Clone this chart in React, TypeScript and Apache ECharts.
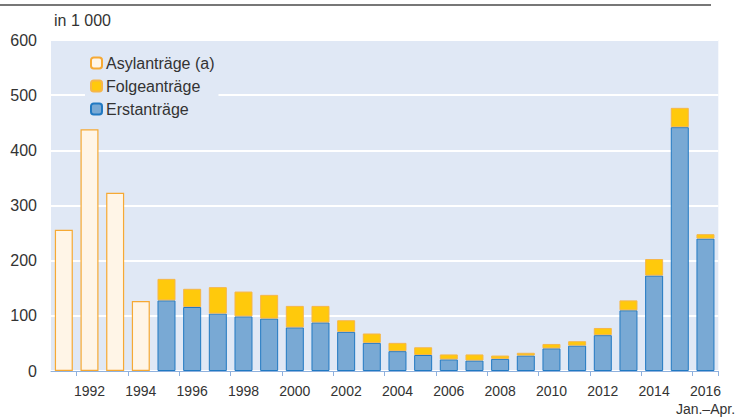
import React, { useEffect, useRef } from "react";
import * as echarts from "echarts";

const years = [
  "1991", "1992", "1993", "1994", "1995", "1996", "1997", "1998", "1999", "2000",
  "2001", "2002", "2003", "2004", "2005", "2006", "2007", "2008", "2009", "2010",
  "2011", "2012", "2013", "2014", "2015", "2016",
];

// Asylanträge (a) – total, only 1991–1994 (in 1 000)
const asylTotal = [256, 438, 323, 127];
// Erstanträge (in 1 000), 1995–2016
const erstantraege = [
  128, 116, 104, 99, 95, 79, 88, 71, 51, 36, 29, 21, 19, 22, 28, 41, 46, 65, 110, 173, 442, 240,
];
// Folgeanträge (in 1 000), 1995–2016
const folgeantraege = [
  39, 33, 48, 45, 43, 39, 30, 21, 17, 15, 14, 9, 11, 6, 5, 8, 8, 13, 18, 30, 35, 8,
];

const yTicks = [0, 100, 200, 300, 400, 500, 600];

const FONT = "'Liberation Sans', Arial, Helvetica, sans-serif";

export default function App() {
  const ref = useRef<HTMLDivElement>(null);

  useEffect(() => {
    document.body.style.margin = "0";
    if (!ref.current) return;
    const chart = echarts.init(ref.current, undefined, { renderer: "svg" });

    const pre = years.length - erstantraege.length;
    const asylData = years.map((_, i) => (i < asylTotal.length ? asylTotal[i] : "-"));
    const erstData = years.map((_, i) => (i >= pre ? erstantraege[i - pre] : "-"));
    const folgeData = years.map((_, i) => (i >= pre ? folgeantraege[i - pre] : "-"));

    chart.setOption({
      animation: false,
      textStyle: { fontFamily: FONT },
      grid: {
        left: 51,
        right: 18,
        top: 40,
        bottom: 43.5,
        show: true,
        backgroundColor: "#e0e8f5",
        borderWidth: 0,
      },
      legend: {
        orient: "vertical",
        left: 85,
        top: 50,
        padding: [5, 4, 5, 5],
        backgroundColor: "#e0e8f5",
        itemWidth: 11,
        itemHeight: 11,
        itemGap: 7,
        textStyle: { fontSize: 16, color: "#333", lineHeight: 16, fontFamily: FONT, padding: [0, 0, 0, -1] },
        data: ["Asylanträge (a)", "Folgeanträge", "Erstanträge"],
      },
      graphic: [
        {
          type: "line",
          shape: { x1: 0, y1: 5, x2: 711, y2: 5 },
          style: { stroke: "#777", lineWidth: 2 },
        },
        {
          type: "text",
          left: 54,
          top: 12,
          style: { text: "in 1 000", fontSize: 16, fill: "#333", fontFamily: FONT },
        },
      ],
      xAxis: {
        type: "category",
        data: years,
        boundaryGap: true,
        axisLine: { lineStyle: { color: "#8fb1de", width: 1 } },
        axisTick: { show: true, length: 5, lineStyle: { color: "#8fb1de" } },
        axisLabel: {
          interval: (index: number) => index % 2 === 1,
          color: "#333",
          fontSize: 14,
          margin: 12,
          lineHeight: 16,
          formatter: (v: string) => (v === "2016" ? "2016\n{s|Jan.–Apr.}" : v),
          rich: { s: { fontSize: 14, lineHeight: 19, color: "#333" } },
        },
      },
      yAxis: {
        type: "value",
        min: 0,
        max: 600,
        interval: 100,
        axisLine: { show: false },
        axisTick: { show: false },
        axisLabel: {
          color: "#333",
          fontSize: 16,
          margin: 14,
          formatter: (v: number) => (yTicks.includes(v) ? String(v) : ""),
        },
        splitLine: { show: true, lineStyle: { color: "#ffffff", width: 2 } },
      },
      series: [
        {
          name: "Erstanträge",
          type: "bar",
          stack: "a",
          data: erstData,
          barWidth: 18,
          itemStyle: { color: "#79a9d4", borderColor: "#2179c2", borderWidth: 1 },
        },
        {
          name: "Folgeanträge",
          type: "bar",
          stack: "a",
          data: folgeData,
          barWidth: 18,
          itemStyle: { color: "#ffc90c", borderColor: "#f6b64a", borderWidth: 1 },
        },
        {
          name: "Asylanträge (a)",
          type: "bar",
          stack: "a",
          data: asylData,
          barWidth: 18,
          itemStyle: { color: "#fff5e7", borderColor: "#f6a934", borderWidth: 1.2 },
        },
      ],
    });

    return () => chart.dispose();
  }, []);

  return <div ref={ref} style={{ width: 738, height: 418 }} />;
}
